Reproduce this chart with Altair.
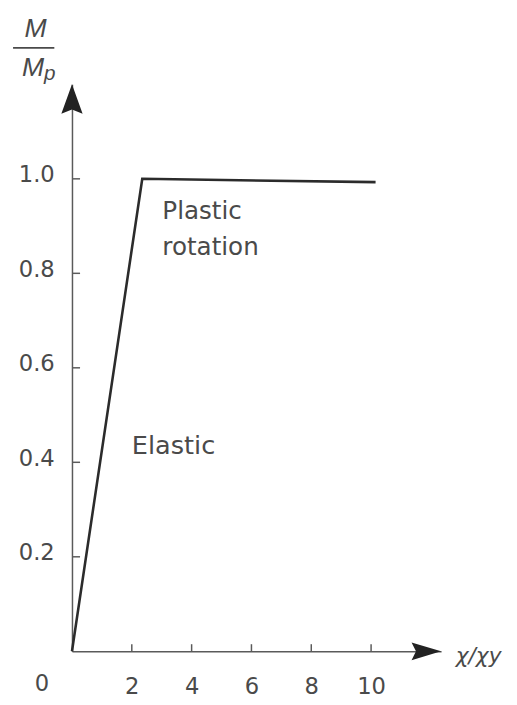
import altair as alt
import pandas as pd

# ---- data ----
chi = [0, 2.35, 10.15]         # chi / chi_y
moment = [0, 1.0, 0.993]       # M / Mp
x_ticks = [2, 4, 6, 8, 10]
y_ticks = [0.2, 0.4, 0.6, 0.8, 1.0]

X_MAX = 12.34
Y_MAX = 1.2

curve = pd.DataFrame({"chi": chi, "m": moment})
xt = pd.DataFrame({"v": x_ticks})
yt = pd.DataFrame({"v": y_ticks})

xs = alt.Scale(domain=[0, X_MAX], nice=False, zero=False)
ys = alt.Scale(domain=[0, Y_MAX], nice=False, zero=False)

FONT = "DejaVu Sans"
TXT = "#4a4a4a"
AX = "#5a5a5a"

XAXIS = alt.Axis(values=x_ticks, title=None, grid=False, ticks=False, tickSize=0,
                 domainColor=AX, domainWidth=1.5, labelFont=FONT, labelFontSize=23,
                 labelColor=TXT, labelPadding=25, labelBaseline="top", labelFlush=False)
YAXIS = alt.Axis(values=y_ticks, title=None, grid=False, ticks=False, tickSize=0,
                 domainColor=AX, domainWidth=1.5, labelFont=FONT, labelFontSize=23,
                 labelColor=TXT, labelPadding=18, labelBaseline="middle",
                 labelOffset=-4, format=".1f", labelFlush=False)


def X(field):
    return alt.X(field, scale=xs, axis=XAXIS)


def Y(field):
    return alt.Y(field, scale=ys, axis=YAXIS)


line = alt.Chart(curve).mark_line(color="#2b2b2b", strokeWidth=2.6, clip=False).encode(
    x=X("chi:Q"), y=Y("m:Q"),
)

# inward tick marks
yticks = alt.Chart(yt).mark_rule(color=AX, strokeWidth=1.5).encode(
    y=Y("v:Q"),
    x=alt.datum(0),
    x2=alt.datum(0.27),
)
xticks = alt.Chart(xt).mark_rule(color=AX, strokeWidth=1.5).encode(
    x=X("v:Q"),
    y=alt.datum(0),
    y2=alt.datum(0.015),
)

# arrow heads at the ends of the axes
up_arrow = alt.Chart(pd.DataFrame({"x": [0], "y": [Y_MAX]})).mark_point(
    shape="M0,0L-0.36,1L0,0.85L0.36,1Z", filled=True, size=3600, color="#222222",
    opacity=1, clip=False
).encode(x=X("x:Q"), y=Y("y:Q"))

right_arrow = alt.Chart(pd.DataFrame({"x": [X_MAX], "y": [0]})).mark_point(
    shape="M0,0L-1,-0.3L-0.85,0L-1,0.3Z", filled=True, size=3600, color="#222222",
    opacity=1, clip=False
).encode(x=X("x:Q"), y=Y("y:Q"))

# annotations
notes = pd.DataFrame({
    "x": [3.02, 3.02],
    "y": [0.915, 0.838],
    "t": ["Plastic", "rotation"],
})
note_text = alt.Chart(notes).mark_text(
    align="left", baseline="alphabetic", font=FONT, fontSize=25, color=TXT, clip=False
).encode(x=X("x:Q"), y=Y("y:Q"), text="t:N")

elastic = alt.Chart(pd.DataFrame({"x": [2.0], "y": [0.417], "t": ["Elastic"]})).mark_text(
    align="left", baseline="alphabetic", font=FONT, fontSize=26, color=TXT, clip=False
).encode(x=X("x:Q"), y=Y("y:Q"), text="t:N")

origin = alt.Chart(pd.DataFrame({"x": [-1.0], "y": [-0.069], "t": ["0"]})).mark_text(
    align="center", baseline="middle", font=FONT, fontSize=23, color=TXT, clip=False
).encode(x=X("x:Q"), y=Y("y:Q"), text="t:N")

xtitle = alt.Chart(pd.DataFrame({"x": [12.83], "y": [-0.025], "t": ["χ/χy"]})).mark_text(
    align="left", baseline="alphabetic", font=FONT, fontSize=22, fontStyle="italic",
    color=TXT, clip=False
).encode(x=X("x:Q"), y=Y("y:Q"), text="t:N")

# y title: M / Mp as a fraction
ytop = alt.Chart(pd.DataFrame({"x": [-1.22, -1.3], "y": [1.317, 1.234], "t": ["M", "M"]})).mark_text(
    align="center", baseline="middle", font="Liberation Sans", fontStyle="italic",
    fontSize=27, color=TXT, clip=False
).encode(x=X("x:Q"), y=Y("y:Q"), text="t:N")
ysub = alt.Chart(pd.DataFrame({"x": [-0.74], "y": [1.222], "t": ["p"]})).mark_text(
    align="center", baseline="middle", font="Liberation Sans", fontStyle="italic",
    fontSize=21, color=TXT, clip=False
).encode(x=X("x:Q"), y=Y("y:Q"), text="t:N")
frac_bar = alt.Chart(pd.DataFrame({"x": [-1.97], "x2": [-0.59], "y": [1.277]})).mark_rule(
    color=TXT, strokeWidth=1.8, clip=False
).encode(x=X("x:Q"), x2="x2:Q", y=Y("y:Q"))

chart = alt.layer(
    line, yticks, xticks, up_arrow, right_arrow, note_text, elastic, origin, xtitle,
    ytop, ysub, frac_bar
).properties(
    width=375, height=576,
    autosize=alt.AutoSizeParams(type="none"),
    padding={"left": 65, "top": 72, "right": 69, "bottom": 49},
    background="white",
).configure_view(stroke=None)

chart.save("out.html", embed_options={"renderer": "svg", "actions": False})
